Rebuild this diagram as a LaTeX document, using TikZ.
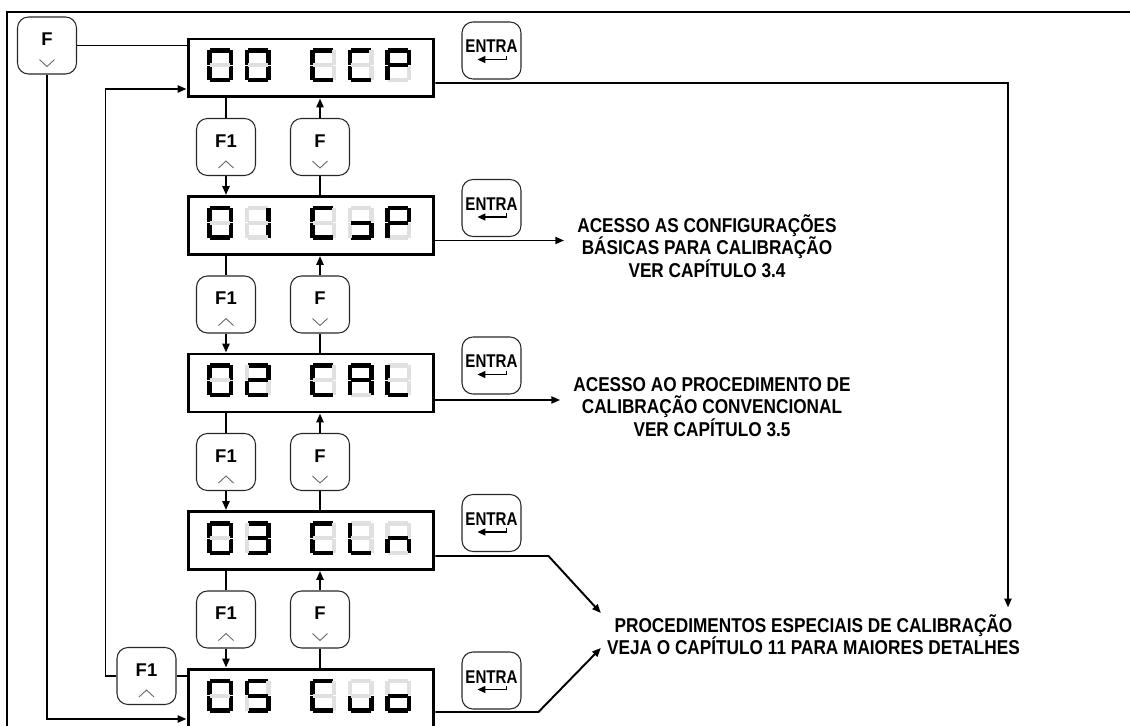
\documentclass[tikz,border=0pt]{standalone}
\usepackage{fontspec}
\setmainfont{Liberation Sans}
\newfontfamily\narrowfont[FakeStretch=0.82]{Liberation Sans}
\newfontfamily\notefont[FakeStretch=0.86]{Liberation Sans}
\usetikzlibrary{arrows.meta}
\definecolor{segoff}{gray}{0.88}

\makeatletter
% one seven-segment character: top-left x, top-left y, lit segments
\newcommand\segdigit[3]{%
  \foreach \s/\xa/\ya/\xb/\yb in {a/3/0/23/4.5,b/21.5/2/26/16.5,c/21.5/17.5/26/32,d/3/29.5/23/34,e/0/17.5/4.5/32,f/0/2/4.5/16.5,g/3/15/23/19}{%
    \expandafter\in@\expandafter{\s}{#3}%
    \ifin@\def\segcol{black}\else\def\segcol{segoff}\fi
    \fill[fill=\segcol] (#1+\xa,#2+\ya) rectangle (#1+\xb,#2+\yb);
  }}
\makeatother
% the five characters of one display: top edge, then the characters
\newcommand\segrow[6]{%
  \segdigit{207}{#1+9.5}{#2}\segdigit{244.5}{#1+9.5}{#3}%
  \segdigit{310}{#1+9.5}{#4}\segdigit{347.5}{#1+9.5}{#5}\segdigit{385}{#1+9.5}{#6}}

\begin{document}
\begin{tikzpicture}[x=0.02cm,y=-0.02cm,line width=1.1pt,
  >={Triangle[length=5pt,width=4pt]},
  display/.style={draw,line width=1.7pt,minimum width=4.92cm,minimum height=1.16cm,inner sep=0pt},
  key/.style={draw=black!85,line width=0.6pt,rounded corners=0.22cm,minimum width=1.18cm,
    minimum height=1.14cm,inner sep=0pt,font=\fontsize{10.5}{12}\selectfont\bfseries,
    text height=0.26cm,text depth=0.25cm},
  entrakey/.style={key,font=\narrowfont\fontsize{10.5}{12}\selectfont\bfseries,
    text height=0.26cm,text depth=0.16cm},
  chev/.style={line width=0.5pt,black!60},
  note/.style={font=\notefont\fontsize{11.4}{12.8}\selectfont\bfseries,align=center,inner xsep=7pt}]
  \useasboundingbox (0,0) rectangle (1130,726);
  % Frame
  \draw[line width=0.8pt] (1130,12) -- (7,12) -- (7,726);
  % Displays and ENTRA keys
  \foreach \i/\y in {0/68,1/225.5,2/383,3/540.5,4/698}{
    \node[display] (d\i) at (311,\y) {};
    \node[entrakey] (e\i) at (491.5,\y-17.5) {ENTRA};
    \draw[line width=0.7pt,-{Triangle[length=4.5pt,width=4pt]}]
      ([shift={(15,-24)}]e\i.south) -- ++(0,4) -- ++(-29,0);
  }
  \segrow{39}{abcdef}{abcdef}{adef}{adef}{abefg}
  \segrow{196.5}{abcdef}{bc}{adef}{cdg}{abefg}
  \segrow{354}{abcdef}{abdeg}{adef}{abcefg}{def}
  \segrow{511.5}{abcdef}{abcdg}{adef}{def}{ceg}
  \segrow{669}{abcdef}{acdfg}{adef}{cde}{cdeg}
  % F1 / F keys between the displays
  \foreach \i/\j/\y in {0/1/147,1/2/304.5,2/3/462,3/4/619.5}{
    \node[key] (u\j) at (226,\y) {F1};
    \node[key] (v\j) at (320,\y) {F};
    \draw[chev] ([shift={(-7.5,-8)}]u\j.south) -- ++(7.5,-7) -- ++(7.5,7);
    \draw[chev] ([shift={(-7.5,-15)}]v\j.south) -- ++(7.5,7) -- ++(7.5,-7);
    \draw (d\i.south -| u\j) -- (u\j);
    \draw[->] (u\j) -- (u\j |- d\j.north);
    \draw (v\j |- d\j.north) -- (v\j);
    \draw[->] (v\j) -- (v\j |- d\i.south);
  }
  % Outer keys
  \node[key] (fk) at (47,45.5) {F};
  \node[key] (fl) at (146.5,676) {F1};
  \draw[chev] ([shift={(-7.5,-15)}]fk.south) -- ++(7.5,7) -- ++(7.5,-7);
  \draw[chev] ([shift={(-7.5,-8)}]fl.south) -- ++(7.5,-7) -- ++(7.5,7);
  \draw (fk) -- (fk -| d0.west);
  \draw[->] (fk) |- ([yshift=-0.42cm]d4.west);
  \draw (fl) -- (fl -| d4.west);
  \draw[->] (fl.west) -- ++(-11,0) |- ([yshift=-0.42cm]d0.west);
  % Notes
  \node[note] (t1) at (707,246) {ACESSO AS CONFIGURAÇÕES\\BÁSICAS PARA CALIBRAÇÃO\\VER CAPÍTULO 3.4};
  \node[note] (t2) at (712,407) {ACESSO AO PROCEDIMENTO DE\\CALIBRAÇÃO CONVENCIONAL\\VER CAPÍTULO 3.5};
  \node[note,inner xsep=3pt] (t3) at (813.5,634.5) {PROCEDIMENTOS ESPECIAIS DE CALIBRAÇÃO\\VEJA O CAPÍTULO 11 PARA MAIORES DETALHES};
  % Outputs
  \coordinate (o0) at ([yshift=-0.3cm]d0.east);
  \coordinate (c0) at (1008,83);
  \coordinate (o1) at ([yshift=-0.3cm]d1.east);
  \coordinate (o2) at ([yshift=-0.34cm]d2.east);
  \draw[->] (o0) -- (c0) -- (c0 |- t3.north);
  \draw[->] (o1) -- (o1 -| t1.west);
  \draw[->] (o2) -- (o2 -| t2.west);
  \draw[->] ([yshift=-0.31cm]d3.east) -- ++(113,0) -- ([yshift=0.43cm]t3.west);
  \draw[->] ([yshift=-0.28cm]d4.east) -- ++(103,0) -- ([yshift=-0.27cm]t3.west);
\end{tikzpicture}
\end{document}
